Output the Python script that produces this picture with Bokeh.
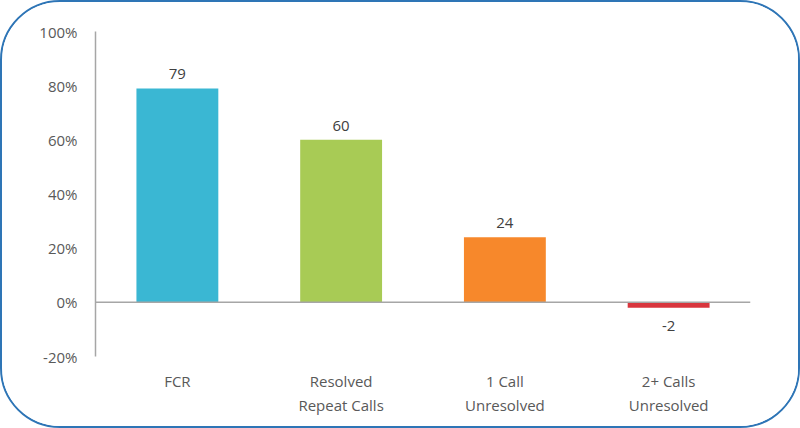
from bokeh.plotting import figure
from bokeh.models import ColumnDataSource, Range1d, FactorRange, Span, LabelSet, FixedTicker
from bokeh.core.properties import value
from bokeh.embed import file_html
from bokeh.resources import INLINE

categories = ["FCR", "Resolved\nRepeat Calls", "1 Call\nUnresolved", "2+ Calls\nUnresolved"]
values = [79, 60, 24, -2]
colors = ["#3AB7D3", "#A8CB55", "#F7882B", "#D8353D"]
y_ticks = [-20, 0, 20, 40, 60, 80, 100]

FONT = "Open Sans"

source = ColumnDataSource(dict(
    cat=categories,
    val=values,
    color=colors,
    label=[str(v) for v in values],
    off=[9 if v >= 0 else -13 for v in values],
    base=["bottom" if v >= 0 else "top" for v in values],
))

p = figure(width=800, height=428, x_range=FactorRange(*categories),
           y_range=Range1d(-20, 100), output_backend="svg", toolbar_location=None,
           min_border_left=93, min_border_right=52, min_border_top=29, min_border_bottom=74,
           styles={"border": "2px solid #2E75B6", "border-radius": "60px", "overflow": "hidden"})
p.x_range.range_padding = 0
p.x_range.factor_padding = 0
p.outline_line_color = None
p.grid.visible = False
p.background_fill_color = "white"
p.border_fill_color = "white"

p.vbar(x="cat", top="val", bottom=0, width=0.5, fill_color="color", line_color=None, source=source)

zero = Span(location=0, dimension="width", line_color="#A6A6A6", line_width=1.5)
p.add_layout(zero)

labels = LabelSet(x="cat", y="val", text="label", y_offset="off", text_baseline="base",
                  text_align="center", source=source, text_font=value(FONT), text_font_size="15px",
                  text_color="#404040")
p.add_layout(labels)

yax = p.yaxis[0]
yax.ticker = FixedTicker(ticks=y_ticks)
yax.major_label_overrides = {t: f"{t}%" for t in y_ticks}
yax.axis_line_color = "#A6A6A6"
yax.axis_line_width = 1.5
yax.major_tick_line_color = None
yax.major_tick_out = 0
yax.major_tick_in = 0
yax.minor_tick_line_color = None
yax.minor_tick_out = 0
yax.major_label_standoff = 18
yax.major_label_text_font = FONT
yax.major_label_text_font_size = "15px"
yax.major_label_text_color = "#595959"

xax = p.xaxis[0]
xax.axis_line_color = None
xax.major_tick_line_color = None
xax.major_tick_out = 0
xax.major_tick_in = 0
xax.minor_tick_line_color = None
xax.minor_tick_out = 0
xax.major_label_standoff = 14
xax.major_label_text_font = FONT
xax.major_label_text_font_size = "15px"
xax.major_label_text_color = "#595959"

open("out.html", "w").write(file_html(p, INLINE))
